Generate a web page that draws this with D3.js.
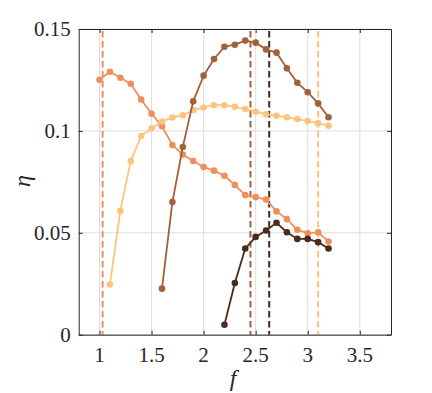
<!DOCTYPE html>
<html><head><meta charset="utf-8">
<script src="https://cdn.jsdelivr.net/npm/d3@7"></script>
</head><body>
<svg id="c" width="432" height="393"></svg>
<script>
const fA = [1.0,1.1,1.2,1.3,1.4,1.5,1.6,1.7,1.8,1.9,2.0,2.1,2.2,2.3,2.4,2.5,2.6,2.7,2.8,2.9,3.0,3.1,3.2];
const etaA = [0.1251,0.129,0.1261,0.1231,0.1154,0.1084,0.1023,0.0931,0.0884,0.0852,0.0823,0.0805,0.078,0.0735,0.0685,0.0675,0.0663,0.0605,0.0567,0.0515,0.0498,0.0502,0.0457];
const fB = [1.1,1.2,1.3,1.4,1.5,1.6,1.7,1.8,1.9,2.0,2.1,2.2,2.3,2.4,2.5,2.6,2.7,2.8,2.9,3.0,3.1,3.2];
const etaB = [0.0246,0.0608,0.0852,0.0975,0.1013,0.1046,0.1066,0.1077,0.1102,0.1115,0.1126,0.1126,0.1118,0.1107,0.1094,0.1082,0.1074,0.1067,0.1058,0.1048,0.1038,0.1025];
const fC = [1.6,1.7,1.8,1.9,2.0,2.1,2.2,2.3,2.4,2.5,2.6,2.7,2.8,2.9,3.0,3.1,3.2];
const etaC = [0.0226,0.0651,0.0921,0.1145,0.1271,0.1353,0.1413,0.1423,0.1443,0.1433,0.14,0.1384,0.1307,0.1236,0.119,0.1135,0.1067];
const fD = [2.2,2.3,2.4,2.5,2.6,2.7,2.8,2.9,3.0,3.1,3.2];
const etaD = [0.0049,0.0254,0.0423,0.048,0.0511,0.0549,0.0503,0.047,0.047,0.0454,0.0423];
const vlines = [1.03, 3.1, 2.45, 2.63];
const xTicks = [1,1.5,2,2.5,3,3.5];
const yTicks = [0,0.05,0.1,0.15];
const xTickLabels = ["1","1.5","2","2.5","3","3.5"];
const yTickLabels = ["0","0.05","0.1","0.15"];
const colors = ["#ef8f5b","#fec47d","#a2613a","#4b2b19"];

const svg = d3.select("#c").style("margin","0");
d3.select("body").style("margin","0");
const L=78.7,R=391,T=29,B=334.7;
const x = d3.scaleLinear().domain([0.8,3.8]).range([L,R]);
const y = d3.scaleLinear().domain([0,0.15]).range([B,T]);
const FONT = '"Liberation Serif"';

// grid
svg.append("g").selectAll("line").data(xTicks).join("line")
  .attr("x1",d=>x(d)).attr("x2",d=>x(d)).attr("y1",T).attr("y2",B)
  .attr("stroke","#dedede").attr("stroke-width",1);
svg.append("g").selectAll("line").data(yTicks).join("line")
  .attr("y1",d=>y(d)).attr("y2",d=>y(d)).attr("x1",L).attr("x2",R)
  .attr("stroke","#dedede").attr("stroke-width",1);

// dashed lines
svg.append("g").selectAll("line").data(vlines).join("line")
  .attr("x1",d=>x(d)).attr("x2",d=>x(d)).attr("y1",T+2).attr("y2",B)
  .attr("stroke",(d,i)=>colors[i]).attr("stroke-width",2).attr("stroke-dasharray","6.5,3.5");

// series
const series = [[fA,etaA],[fB,etaB],[fC,etaC],[fD,etaD]];
const line = d3.line().x(d=>x(d[0])).y(d=>y(d[1]));
series.forEach(([fs,es],i)=>{
  const pts = fs.map((f,j)=>[f,es[j]]);
  const g = svg.append("g");
  g.append("path").attr("d",line(pts)).attr("fill","none").attr("stroke",colors[i]).attr("stroke-width",1.8);
  g.selectAll("circle").data(pts).join("circle").attr("cx",d=>x(d[0])).attr("cy",d=>y(d[1])).attr("r",3.3).attr("fill",colors[i]);
});

// axes (ticks and frame)
const ax = svg.append("g").attr("transform",`translate(0,${B})`).call(d3.axisBottom(x).tickValues(xTicks).tickFormat("").tickSizeInner(-4).tickSizeOuter(0));
const axT = svg.append("g").attr("transform",`translate(0,${T})`).call(d3.axisTop(x).tickValues(xTicks).tickFormat("").tickSizeInner(-4).tickSizeOuter(0));
const ay = svg.append("g").attr("transform",`translate(${L},0)`).call(d3.axisLeft(y).tickValues(yTicks).tickFormat("").tickSizeInner(-4).tickSizeOuter(0));
const ayR = svg.append("g").attr("transform",`translate(${R},0)`).call(d3.axisRight(y).tickValues(yTicks).tickFormat("").tickSizeInner(-4).tickSizeOuter(0));
[ax,axT,ay,ayR].forEach(a=>{
  a.select(".domain").attr("stroke","#262626").attr("stroke-width",1);
  a.selectAll(".tick line").attr("stroke","#262626");
});

// tick labels
svg.selectAll("text.xl").data(xTicks).join("text").attr("class","xl")
  .attr("x",d=>x(d)).attr("y",B+27).attr("text-anchor","middle")
  .style("font-family",FONT).attr("font-size",21).attr("fill","#262626")
  .text((d,i)=>xTickLabels[i]);
svg.selectAll("text.yl").data(yTicks).join("text").attr("class","yl")
  .attr("x",L-8).attr("y",d=>y(d)+7).attr("text-anchor","end")
  .style("font-family",FONT).attr("font-size",21).attr("fill","#262626")
  .text((d,i)=>yTickLabels[i]);

svg.append("text").attr("x",233).attr("y",386).attr("text-anchor","middle")
  .style("font-family",FONT).style("font-style","italic").attr("font-size",24).attr("fill","#262626").text("f");
svg.append("text").attr("transform","translate(30,181) rotate(-90)").attr("text-anchor","middle")
  .style("font-family",FONT).style("font-style","italic").attr("font-size",24).attr("fill","#262626").text("η");
</script>
</body></html>
